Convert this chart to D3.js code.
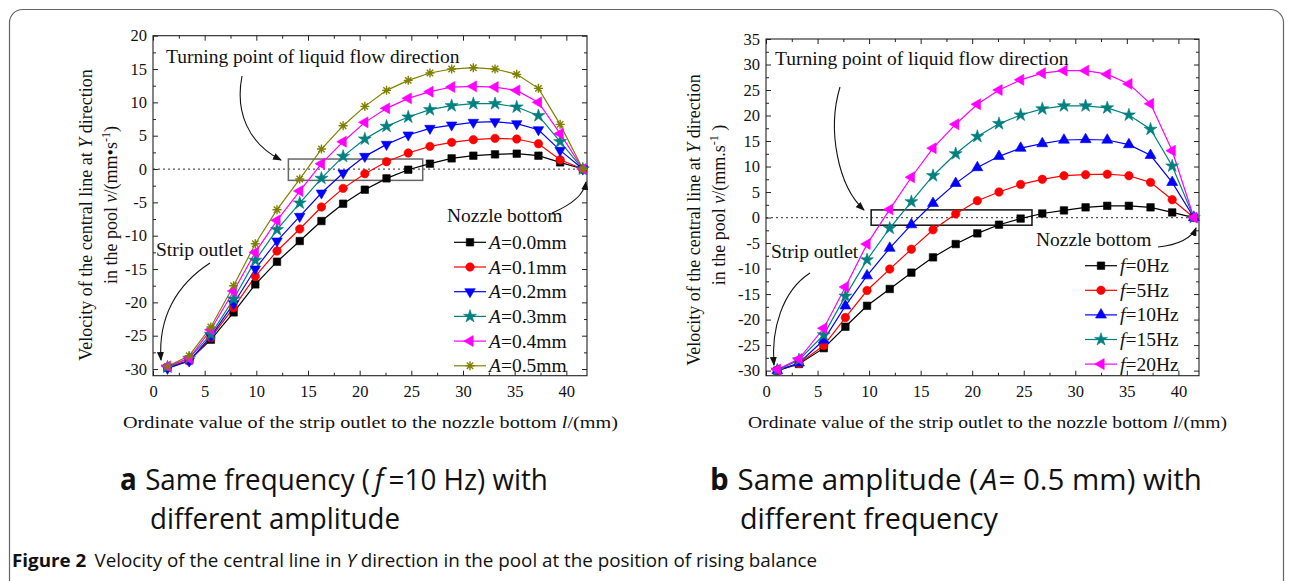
<!DOCTYPE html>
<html>
<head>
<meta charset="utf-8">
<script src="https://cdn.jsdelivr.net/npm/d3@7"></script>
<style>
  body { margin: 0; background: #fff; }
  svg text { font-family: "Liberation Serif", "Times New Roman", serif; fill: #111; }
  svg text.cap { font-family: "Open Sans", "Noto Sans", sans-serif; }
</style>
</head>
<body>
<svg id="fig" width="1292" height="581"></svg>
<script>
// ---- panel a: same frequency (f = 10 Hz), different amplitude ----
const xA = [1.4, 3.5, 5.6, 7.8, 9.9, 12.0, 14.2, 16.3, 18.4, 20.5, 22.6, 24.7, 26.8, 28.9, 31.0, 33.1, 35.2, 37.3, 39.4, 41.6];
const ampLabels = ["0.0", "0.1", "0.2", "0.3", "0.4", "0.5"];
const vA00 = [-29.8, -28.7, -25.6, -21.5, -17.3, -13.9, -10.8, -7.8, -5.2, -3.1, -1.4, -0.1, 0.8, 1.6, 2.0, 2.2, 2.3, 2.0, 1.0, 0];
const vA01 = [-29.7, -28.8, -25.3, -20.8, -16.1, -12.3, -9.0, -5.7, -2.9, -0.7, 1.1, 2.4, 3.4, 4.0, 4.4, 4.6, 4.5, 3.8, 1.4, 0];
const vA02 = [-29.9, -28.8, -25.1, -20.2, -15.0, -10.8, -7.1, -3.6, -0.6, 1.9, 3.7, 5.1, 6.1, 6.6, 7.0, 7.1, 6.8, 5.9, 2.8, 0];
const vA03 = [-29.7, -28.4, -24.8, -19.5, -13.7, -9.1, -5.1, -1.4, 1.9, 4.5, 6.4, 7.8, 8.9, 9.5, 9.8, 9.8, 9.3, 8.0, 4.1, 0];
const vA04 = [-29.6, -28.4, -24.1, -18.3, -12.5, -7.7, -3.3, 0.8, 4.1, 7.0, 9.1, 10.6, 11.6, 12.3, 12.4, 12.3, 11.8, 10.0, 5.3, 0];
const vA05 = [-29.6, -28.0, -23.7, -17.5, -11.2, -6.1, -1.5, 3.0, 6.5, 9.4, 11.8, 13.3, 14.4, 15.0, 15.2, 15.0, 14.2, 12.1, 6.7, 0];

// ---- panel b: same amplitude (A = 0.5 mm), different frequency ----
const xB = [1.1, 3.2, 5.6, 7.7, 9.8, 12.0, 14.1, 16.2, 18.4, 20.5, 22.6, 24.7, 26.8, 28.9, 31.0, 33.1, 35.2, 37.3, 39.4, 41.5];
const freqLabels = ["0", "5", "10", "15", "20"];
const vF00 = [-30.0, -28.7, -25.6, -21.4, -17.3, -14.0, -10.8, -7.8, -5.2, -3.1, -1.4, -0.2, 0.8, 1.4, 2.0, 2.3, 2.3, 2.0, 1.0, 0];
const vF05 = [-29.9, -28.6, -25.1, -19.6, -14.3, -10.1, -6.2, -2.4, 0.7, 3.3, 5.0, 6.5, 7.5, 8.2, 8.4, 8.5, 8.2, 6.9, 3.5, 0];
const vF10 = [-30.0, -28.5, -24.0, -17.3, -11.4, -6.0, -1.4, 2.8, 6.7, 9.8, 12.0, 13.6, 14.5, 15.2, 15.3, 15.2, 14.3, 12.2, 6.9, 0];
const vF15 = [-29.9, -27.9, -23.0, -15.4, -8.3, -2.1, 3.1, 8.2, 12.5, 15.9, 18.4, 20.1, 21.3, 21.9, 21.9, 21.5, 20.1, 17.3, 10.1, 0];
const vF20 = [-29.8, -27.7, -21.7, -13.6, -5.2, 1.6, 7.9, 13.6, 18.3, 22.2, 25.0, 27.0, 28.3, 28.8, 28.8, 28.1, 26.2, 22.3, 13.1, 0];

// turning-point boxes, in data units [x0, x1, y0, y1]
const boxA = [13.1, 26.1, -1.7, 1.5];
const boxB = [10.2, 25.8, -1.5, 1.5];

const svg = d3.select("#fig");

// markers used by the series
const asterisk = "M-4.5,0H4.5M0,-4.5V4.5M-3.2,-3.2L3.2,3.2M-3.2,3.2L3.2,-3.2";
const markers = {
  square:   { type: d3.symbolSquare,   size: 56, rot: 0 },
  circle:   { type: d3.symbolCircle,   size: 56, rot: 0 },
  triDown:  { type: d3.symbolTriangle, size: 48, rot: 180 },
  triUp:    { type: d3.symbolTriangle, size: 52, rot: 0 },
  triLeft:  { type: d3.symbolTriangle, size: 52, rot: -90 },
  star:     { type: d3.symbolStar,     size: 52, rot: 0 },
  asterisk: null
};

function addMarker(sel, kind, color) {
  if (kind === "asterisk") {
    sel.append("path").attr("d", asterisk)
      .attr("fill", "none").attr("stroke", color).attr("stroke-width", 1.4);
  } else {
    const m = markers[kind];
    sel.append("path")
      .attr("d", d3.symbol(m.type, m.size)())
      .attr("transform", `rotate(${m.rot})`)
      .attr("fill", color).attr("stroke", color).attr("stroke-width", 0.6);
  }
}

// arrow head
svg.append("defs").append("marker")
  .attr("id", "head")
  .attr("markerUnits", "userSpaceOnUse")
  .attr("markerWidth", 9).attr("markerHeight", 7)
  .attr("refX", 8).attr("refY", 3.5)
  .attr("orient", "auto")
  .append("path").attr("d", "M0,0L9,3.5L0,7Z").attr("fill", "#111");

function drawPanel(p) {
  const x = d3.scaleLinear().domain([0, 42]).range([p.left, p.right]);
  const y = d3.scaleLinear().domain(p.yDomain).range([p.bottom, p.top]);
  const g = svg.append("g");

  // dotted zero line
  g.append("line")
    .attr("x1", p.left).attr("x2", p.right)
    .attr("y1", y(0)).attr("y2", y(0))
    .attr("stroke", "#555").attr("stroke-width", 1.2)
    .attr("stroke-dasharray", "2,3");

  // axes: ticks point inward on every side
  const xMajor = d3.range(0, 41, 5);
  const xMinor = d3.range(2.5, 42, 5);
  const yMajor = d3.range(-30, p.yDomain[1] + 1, 5);
  const yMinor = d3.range(-27.5, p.yDomain[1], 5);

  const fmt = d => d3.format("d")(d).replace("−", "-");

  const xb = g.append("g").attr("transform", `translate(0,${p.bottom})`)
    .call(d3.axisBottom(x).tickValues(xMajor).tickSizeInner(-5).tickSizeOuter(0).tickPadding(10).tickFormat(fmt));
  g.append("g").attr("transform", `translate(0,${p.bottom})`)
    .call(d3.axisBottom(x).tickValues(xMinor).tickSizeInner(-3).tickSizeOuter(0).tickFormat(""));
  g.append("g").attr("transform", `translate(0,${p.top})`)
    .call(d3.axisTop(x).tickValues(xMajor).tickSizeInner(-5).tickSizeOuter(0).tickFormat(""));
  g.append("g").attr("transform", `translate(0,${p.top})`)
    .call(d3.axisTop(x).tickValues(xMinor).tickSizeInner(-3).tickSizeOuter(0).tickFormat(""));

  const yl = g.append("g").attr("transform", `translate(${p.left},0)`)
    .call(d3.axisLeft(y).tickValues(yMajor).tickSizeInner(-5).tickSizeOuter(0).tickPadding(6).tickFormat(fmt));
  g.append("g").attr("transform", `translate(${p.left},0)`)
    .call(d3.axisLeft(y).tickValues(yMinor).tickSizeInner(-3).tickSizeOuter(0).tickFormat(""));
  g.append("g").attr("transform", `translate(${p.right},0)`)
    .call(d3.axisRight(y).tickValues(yMajor).tickSizeInner(-5).tickSizeOuter(0).tickFormat(""));
  g.append("g").attr("transform", `translate(${p.right},0)`)
    .call(d3.axisRight(y).tickValues(yMinor).tickSizeInner(-3).tickSizeOuter(0).tickFormat(""));

  g.selectAll(".domain").remove();
  g.selectAll(".tick line").attr("stroke", "#222");
  [xb, yl].forEach(a => a.selectAll("text")
    .style("font-family", '"Liberation Serif", serif').style("font-size", "16.5px").attr("fill", "#111"));

  g.append("rect")
    .attr("x", p.left).attr("y", p.top)
    .attr("width", p.right - p.left).attr("height", p.bottom - p.top)
    .attr("fill", "none").attr("stroke", "#222").attr("stroke-width", 1.1);

  // turning point box
  g.append("rect")
    .attr("x", x(p.box[0])).attr("y", y(p.box[3]))
    .attr("width", x(p.box[1]) - x(p.box[0]))
    .attr("height", y(p.box[2]) - y(p.box[3]))
    .attr("fill", "none").attr("stroke", p.boxColor).attr("stroke-width", 1.5);

  // series
  const line = d3.line().x((d, i) => x(p.xs[i])).y(d => y(d));
  p.series.forEach(s => {
    g.append("path").datum(s.values)
      .attr("d", line)
      .attr("fill", "none").attr("stroke", s.color).attr("stroke-width", 1.2);
  });
  p.series.forEach(s => {
    g.append("g").selectAll("g")
      .data(s.values)
      .join("g")
      .attr("transform", (d, i) => `translate(${x(p.xs[i])},${y(d)})`)
      .each(function () { addMarker(d3.select(this), s.marker, s.color); });
  });

  // legend
  p.series.forEach((s, k) => {
    const ly = p.legend.y + k * p.legend.step;
    const lg = g.append("g");
    lg.append("line")
      .attr("x1", p.legend.x).attr("x2", p.legend.x + 32)
      .attr("y1", ly).attr("y2", ly)
      .attr("stroke", s.color).attr("stroke-width", 1.2);
    const mg = lg.append("g").attr("transform", `translate(${p.legend.x + 16},${ly})`);
    addMarker(mg, s.marker, s.color);
    const t = lg.append("text")
      .attr("x", p.legend.x + 35).attr("y", ly + 6.5)
      .style("font-size", "19.5px");
    t.append("tspan").attr("font-style", "italic").text(p.legend.sym);
    t.append("tspan").text(s.label);
  });

  // annotations
  const ann = (txt, tx, ty) => g.append("text").attr("x", tx).attr("y", ty)
    .style("font-size", "19.5px").text(txt);
  ann("Turning point of liquid flow direction", p.ann.turn[0], p.ann.turn[1]);
  ann("Nozzle bottom", p.ann.nozzle[0], p.ann.nozzle[1]);
  ann("Strip outlet", p.ann.strip[0], p.ann.strip[1]);
  p.ann.arrows.forEach(a => g.append("path").attr("d", a)
    .attr("fill", "none").attr("stroke", "#111").attr("stroke-width", 1.1)
    .attr("marker-end", "url(#head)"));

  // y title (two rotated lines)
  p.yTitle.forEach(t => {
    const tx = g.append("text")
      .attr("transform", `translate(${t.x},${t.y}) rotate(-90)`)
      .attr("text-anchor", "middle")
      .style("font-size", "18px");
    t.parts.forEach(pt => {
      const sp = tx.append("tspan").text(pt.s);
      if (pt.i) sp.attr("font-style", "italic");
      if (pt.sup) sp.attr("baseline-shift", "super").style("font-size", "12px");
    });
  });

  // x title
  const xt = g.append("text")
    .attr("x", p.xTitle.x).attr("y", p.xTitle.y)
    .attr("text-anchor", "middle")
    .attr("textLength", p.xTitle.len).attr("lengthAdjust", "spacingAndGlyphs")
    .style("font-size", "16px");
  xt.append("tspan").text(p.xTitle.pre);
  xt.append("tspan").attr("font-style", "italic").text("l");
  xt.append("tspan").text("/(mm)");
}

drawPanel({
  left: 153, right: 587, top: 35.7, bottom: 375.7,
  yDomain: [-31, 20],
  xs: xA,
  box: boxA, boxColor: "#666",
  series: [
    { values: vA00, color: "#000000", marker: "square",   label: "=" + ampLabels[0] + "mm" },
    { values: vA01, color: "#ff0000", marker: "circle",   label: "=" + ampLabels[1] + "mm" },
    { values: vA02, color: "#0000ff", marker: "triDown",  label: "=" + ampLabels[2] + "mm" },
    { values: vA03, color: "#008080", marker: "star",     label: "=" + ampLabels[3] + "mm" },
    { values: vA04, color: "#ff00ff", marker: "triLeft",  label: "=" + ampLabels[4] + "mm" },
    { values: vA05, color: "#808000", marker: "asterisk", label: "=" + ampLabels[5] + "mm" }
  ],
  legend: { x: 454, y: 242.3, step: 24.7, sym: "A" },
  ann: {
    turn: [166, 63], nozzle: [447, 222], strip: [156, 256],
    arrows: [
      "M242,76 C235,112 248,143 281,160",
      "M552,213 C571,205 584,195 586,182",
      "M210,263 C176,285 158,318 161,360"
    ]
  },
  yTitle: [
    { x: 92, y: 215, parts: [{ s: "Velocity of the central line at " }, { s: "Y", i: true }, { s: " direction" }] },
    { x: 117, y: 205, parts: [{ s: "in the pool " }, { s: "v", i: true }, { s: "/(mm\u2022s" }, { s: "-1", sup: true }, { s: ")" }] }
  ],
  xTitle: { x: 370.5, y: 428, len: 495, pre: "Ordinate value of the strip outlet to the nozzle bottom  " }
});

drawPanel({
  left: 766, right: 1199, top: 39, bottom: 375.7,
  yDomain: [-31, 35],
  xs: xB,
  box: boxB, boxColor: "#111",
  series: [
    { values: vF00, color: "#000000", marker: "square",  label: "=" + freqLabels[0] + "Hz" },
    { values: vF05, color: "#ff0000", marker: "circle",  label: "=" + freqLabels[1] + "Hz" },
    { values: vF10, color: "#0000ff", marker: "triUp",   label: "=" + freqLabels[2] + "Hz" },
    { values: vF15, color: "#008080", marker: "star",    label: "=" + freqLabels[3] + "Hz" },
    { values: vF20, color: "#ff00ff", marker: "triLeft", label: "=" + freqLabels[4] + "Hz" }
  ],
  legend: { x: 1085, y: 265.7, step: 24.6, sym: "f" },
  ann: {
    turn: [775, 65], nozzle: [1036, 246], strip: [771, 258],
    arrows: [
      "M840,87 C827,130 838,186 864,210",
      "M1158,247 C1178,245 1192,238 1196,228",
      "M810,273 C782,291 771,330 774,365"
    ]
  },
  yTitle: [
    { x: 700, y: 220, parts: [{ s: "Velocity of the central line at  " }, { s: "Y", i: true }, { s: " direction" }] },
    { x: 725, y: 205, parts: [{ s: "in the pool " }, { s: "v", i: true }, { s: "/(mm.s" }, { s: "-1", sup: true }, { s: " )" }] }
  ],
  xTitle: { x: 987.5, y: 428, len: 479, pre: "Ordinate value of the strip outlet to the nozzle bottom " }
});

// sub captions: first line built from separate pieces laid side by side,
// then squeezed horizontally to the reference width
function subCap(letter, x, y, line1, len1, line2, len2) {
  const grp = svg.append("g");
  const pieces = [{ s: letter, b: true }].concat(line1);
  let cx = 0;
  pieces.forEach((pt, i) => {
    const t = grp.append("text").attr("class", "cap")
      .attr("y", 0).style("font-size", "30px").text(pt.s);
    if (pt.b) t.attr("font-weight", "bold");
    if (pt.i) t.attr("font-style", "italic");
    const bb = t.node().getBBox();
    t.attr("x", cx - bb.x);
    cx += bb.width + (i === 0 ? 9 : 1);
  });
  const sx = len1 / (cx - 1);
  grp.attr("transform", `translate(${x},${y}) scale(${sx},1)`);

  svg.append("text").attr("class", "cap").attr("x", x + 30).attr("y", y + 39)
    .attr("textLength", len2).attr("lengthAdjust", "spacingAndGlyphs")
    .style("font-size", "30px").text(line2);
}
subCap("a", 120, 490, [{ s: "Same frequency (" }, { s: "f", i: true }, { s: "=10 Hz) with" }], 428, "different amplitude", 250);
subCap("b", 710, 490, [{ s: "Same amplitude (" }, { s: "A", i: true }, { s: "= 0.5 mm) with" }], 492, "different frequency", 258);

// figure caption
const cap = svg.append("text").attr("class", "cap").attr("x", 12).attr("y", 567)
  .attr("textLength", 805).attr("lengthAdjust", "spacingAndGlyphs")
  .style("font-size", "18.5px");
cap.append("tspan").attr("font-weight", "bold").text("Figure 2");
cap.append("tspan").attr("dx", 8).text("Velocity of the central line in ");
cap.append("tspan").attr("font-style", "italic").text("Y");
cap.append("tspan").text(" direction in the pool at the position of rising balance");

// outer frame
svg.append("rect")
  .attr("x", 9.5).attr("y", 9.5).attr("width", 1274).attr("height", 585)
  .attr("rx", 13).attr("fill", "none").attr("stroke", "#666").attr("stroke-width", 1.2);
</script>
</body>
</html>
